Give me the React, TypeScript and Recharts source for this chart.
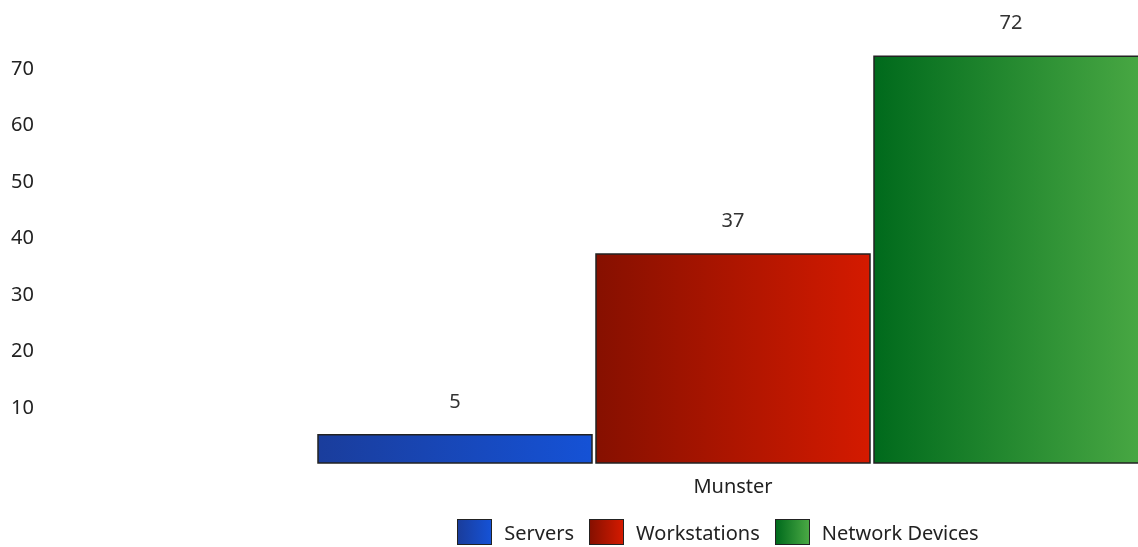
import { BarChart, Bar, XAxis, YAxis, Legend, LabelList } from "recharts";

const categories = ["Munster"];
const servers = [5];
const workstations = [37];
const networkDevices = [72];
const yTicks = [10, 20, 30, 40, 50, 60, 70];

const series = [
  { key: "servers", name: "Servers", from: "#1a3d9c", to: "#1552d6" },
  { key: "workstations", name: "Workstations", from: "#861000", to: "#d41a00" },
  { key: "networkDevices", name: "Network Devices", from: "#006a1c", to: "#4aa944" },
];

const data = categories.map((name, i) => ({
  name,
  servers: servers[i],
  workstations: workstations[i],
  networkDevices: networkDevices[i],
}));

const font = "'Noto Sans', 'Open Sans', sans-serif";

function LegendContent() {
  return (
    <div style={{ display: "flex", justifyContent: "center", alignItems: "center", height: 40, paddingTop: 10, boxSizing: "border-box" }}>
      {series.map((s, i) => (
        <div key={s.key} style={{ display: "flex", alignItems: "center", marginRight: i < series.length - 1 ? 15 : 0 }}>
          <div
            style={{
              width: 35,
              height: 26,
              boxSizing: "border-box",
              border: "1.5px solid #222",
              background: `linear-gradient(to right, ${s.from}, ${s.to})`,
              marginRight: 12,
            }}
          />
          <span style={{ fontFamily: font, fontSize: 20, color: "#222" }}>{s.name}</span>
        </div>
      ))}
    </div>
  );
}

export default function App() {
  return (
    <div style={{ position: "fixed", left: 8, top: 0, width: 1130, height: 547, overflow: "hidden" }}>
      <BarChart
        width={1420}
        height={547}
        data={data}
        margin={{ top: 11, right: 0, left: 0, bottom: 0 }}
        barCategoryGap={280}
        barGap={4}
      >
        <defs>
          {series.map((s) => (
            <linearGradient key={s.key} id={`grad-${s.key}`} x1="0" y1="0" x2="1" y2="0">
              <stop offset="0%" stopColor={s.from} />
              <stop offset="100%" stopColor={s.to} />
            </linearGradient>
          ))}
        </defs>
        <XAxis
          dataKey="name"
          axisLine={false}
          tickLine={false}
          height={44}
          tickMargin={10}
          tick={{ fill: "#222", fontSize: 20, fontFamily: font }}
        />
        <YAxis
          domain={[0, 80]}
          ticks={yTicks}
          axisLine={false}
          tickLine={false}
          tickSize={0}
          tickMargin={4}
          width={30}
          tick={{ fill: "#222", fontSize: 20, fontFamily: font }}
        />
        <Legend verticalAlign="bottom" height={40} content={<LegendContent />} />
        {series.map((s) => (
          <Bar
            key={s.key}
            dataKey={s.key}
            name={s.name}
            fill={`url(#grad-${s.key})`}
            stroke="#222"
            strokeWidth={1.5}
            isAnimationActive={false}
          >
            <LabelList
              dataKey={s.key}
              position="top"
              offset={27}
              fill="#333"
              fontSize={20}
              fontFamily={font}
            />
          </Bar>
        ))}
      </BarChart>
    </div>
  );
}
